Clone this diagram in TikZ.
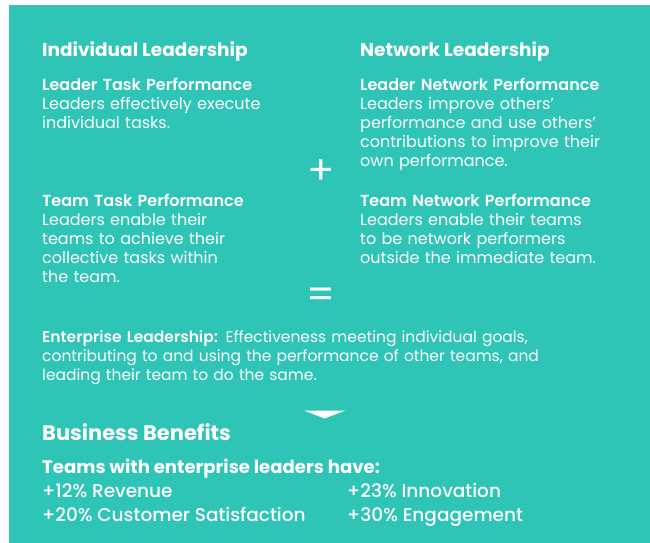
\documentclass[tikz,border=0pt]{standalone}
\usepackage{fontspec}
\setmainfont{Poppins}[BoldFont=* SemiBold]
\newfontfamily\medfont{Poppins}[UprightFont=* Medium, BoldFont=* Bold]
\definecolor{teal1}{HTML}{2EC4B6}
\tikzset{
  head/.style={anchor=base west, inner sep=0pt, text=white, font=\medfont\bfseries\fontsize{18.5}{23}\selectfont},
  block/.style={anchor=base west, inner sep=0pt, text=white, text width=300pt, align=left, font=\fontsize{16}{19.2}\selectfont},
  benefit/.style={anchor=base west, inner sep=0pt, text=white, font=\medfont\fontsize{18.5}{22}\selectfont},
  sign/.style={inner sep=0pt, text=white, font=\fontsize{40}{40}\selectfont},
}
\begin{document}
\begin{tikzpicture}[x=1pt,y=-1pt]
  \useasboundingbox (0,0) rectangle (650,543);
  \fill[teal1] (9,5) rectangle (650,543);

  % left column
  \node[head] (indiv) at (42,56.7) {Individual Leadership};
  \node[block] (ltask) at (42,90) {\textbf{Leader Task Performance}\\Leaders effectively execute\\individual tasks.};
  \node[block] (ttask) at (42,206) {\textbf{Team Task Performance}\\Leaders enable their\\teams to achieve their\\collective tasks within\\the team.};

  % right column
  \node[head] (netw) at (360,56.7) {Network Leadership};
  \node[block] (lnet) at (360,90) {\textbf{Leader Network Performance}\\Leaders improve others'\\performance and use others'\\contributions to improve their\\own performance.};
  \node[block] (tnet) at (360,206) {\textbf{Team Network Performance}\\Leaders enable their teams\\to be network performers\\outside the immediate team.};

  \node[sign] (plus) at (321,172.5) {+};
  \node[sign] (equals) at (321,298) {=};

  \node[block, text width=560pt, font=\fontsize{15.5}{19.2}\selectfont] (enter) at (42,342) {\textbf{Enterprise Leadership:} Effectiveness meeting individual goals,\\contributing to and using the performance of other teams, and\\leading their team to do the same.};

  \fill[white] (304,410.5) -- (345.5,410.5) -- (324.5,418.5) -- cycle;

  \node[head, font=\medfont\bfseries\fontsize{21}{25}\selectfont] (biz) at (42,440.7) {Business Benefits};
  \node[benefit, font=\medfont\bfseries\fontsize{18.1}{22}\selectfont] (teams) at (42,473.3) {Teams with enterprise leaders have:};
  \node[benefit] (rev) at (42,497.3) {+12\% Revenue};
  \node[benefit] (cust) at (42,521.3) {+20\% Customer Satisfaction};
  \node[benefit] (innov) at (347,497.3) {+23\% Innovation};
  \node[benefit] (engage) at (347,521.3) {+30\% Engagement};
\end{tikzpicture}
\end{document}
